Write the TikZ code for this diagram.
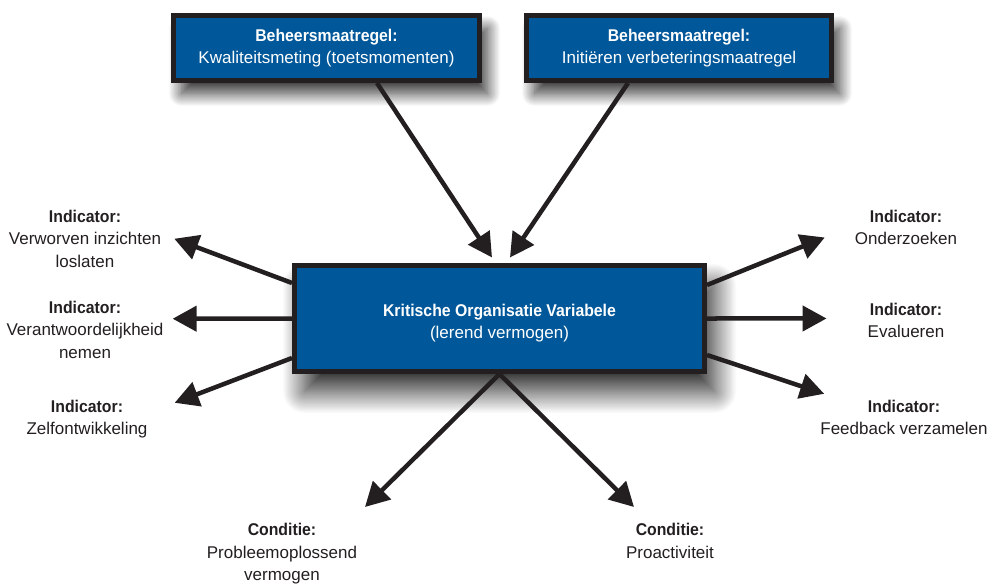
\documentclass[tikz,border=0pt]{standalone}
\usepackage{fontspec}
\setmainfont{Liberation Sans}[BoldFeatures={FakeStretch=0.93}]
\usepackage{tikz}
\usetikzlibrary{arrows.meta,shadows.blur}
\definecolor{kovblue}{RGB}{0,87,153}
\definecolor{kovdark}{RGB}{35,31,32}

\begin{document}
\begin{tikzpicture}[x=1bp,y=-1bp,
  every node/.style={font=\fontsize{17bp}{22.5bp}\selectfont},
  blok/.style={draw=kovdark,line width=5bp,fill=kovblue,text=white,align=center,inner sep=0pt},
  schaduw/.style={blur shadow={shadow xshift=8bp,shadow yshift=-13bp,shadow blur radius=13bp,
    shadow blur steps=30,shadow opacity=80}},
  tekst/.style={text=kovdark,align=center,inner sep=0pt,anchor=north},
  pijl/.style={kovdark,line width=4.5bp,-{Triangle[length=24bp,width=25bp]}}]
  \useasboundingbox (0,0) rectangle (987,584);

  % beheersmaatregelen
  \node[blok,schaduw,minimum width=306bp,minimum height=65bp]
    (bm1) at (326.5,48) {\textbf{Beheersmaatregel:}\\Kwaliteitsmeting (toetsmomenten)};
  \node[blok,schaduw,minimum width=305bp,minimum height=65bp]
    (bm2) at (679,48) {\textbf{Beheersmaatregel:}\\Initiëren verbeteringsmaatregel};

  % KOV
  \node[blok,minimum width=410bp,minimum height=106bp,
    blur shadow={shadow xshift=10bp,shadow yshift=-20bp,shadow blur radius=22bp,
      shadow blur steps=40,shadow opacity=85}]
    (kov) at (499.5,318.5) {\rule{0pt}{22bp}\textbf{Kritische Organisatie Variabele}\\(lerend vermogen)};

  % indicatoren
  \node[tekst] (ind1) at (85,209.8) {\textbf{Indicator:}\\Verworven inzichten\\loslaten};
  \node[tekst] (ind2) at (85,300.8) {\textbf{Indicator:}\\Verantwoordelijkheid\\nemen};
  \node[tekst] (ind3) at (87,399.8) {\textbf{Indicator:}\\Zelfontwikkeling};
  \node[tekst] (ind4) at (906,209.8) {\textbf{Indicator:}\\Onderzoeken};
  \node[tekst] (ind5) at (906,302.8) {\textbf{Indicator:}\\Evalueren};
  \node[tekst] (ind6) at (904,399.8) {\textbf{Indicator:}\\Feedback verzamelen};

  % condities
  \node[tekst] (con1) at (282,523) {\textbf{Conditie:}\\Probleemoplossend\\vermogen};
  \node[tekst] (con2) at (670,523) {\textbf{Conditie:}\\Proactiviteit};

  % pijlen
  \draw[pijl] ([xshift=50.5bp]bm1.south) -- ([xshift=-7.5bp,yshift=5.5bp]kov.north);
  \draw[pijl] ([xshift=-51bp]bm2.south) -- ([xshift=10.5bp,yshift=5.5bp]kov.north);

  \draw[pijl] ([yshift=35.5bp]kov.west) -- ([xshift=13bp]ind1.east);
  \draw[pijl] (kov.west) -- ([xshift=9bp,yshift=11bp]ind2.east);
  \draw[pijl] ([yshift=-39.5bp]kov.west) -- ([xshift=27bp,yshift=-3bp]ind3.north east);

  \draw[pijl] ([yshift=33.5bp]kov.east) -- ([xshift=-30bp,yshift=-10bp]ind4.west);
  \draw[pijl] (kov.east) -- ([xshift=-41bp,yshift=2bp]ind5.west);
  \draw[pijl] ([yshift=-36.5bp]kov.east) -- ([xshift=4bp,yshift=6bp]ind6.north west);

  \draw[pijl] (kov.south) -- ([xshift=83bp,yshift=16bp]con1.north);
  \draw[pijl] (kov.south) -- ([xshift=-36bp,yshift=16bp]con2.north);
\end{tikzpicture}
\end{document}
